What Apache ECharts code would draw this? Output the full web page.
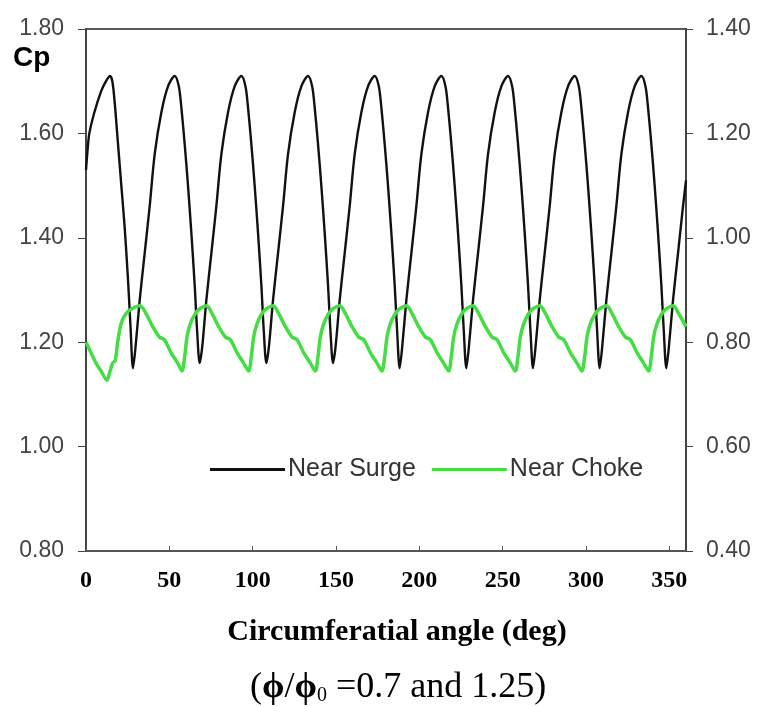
<!DOCTYPE html>
<html>
<head>
<meta charset="utf-8">
<script src="https://cdn.jsdelivr.net/npm/echarts@6/dist/echarts.min.js"></script>
<style>
  html, body { margin: 0; padding: 0; background: #fff; }
  #chart { width: 760px; height: 707px; }
</style>
</head>
<body>
<div id="chart"></div>
<script>
// Cp vs circumferential angle
var xTicks = [0, 50, 100, 150, 200, 250, 300, 350];
var leftTicks = [0.8, 1.0, 1.2, 1.4, 1.6, 1.8];
var rightTicks = [0.4, 0.6, 0.8, 1.0, 1.2, 1.4];

// Near Surge (left axis), [angle, Cp]
var nearSurge = [
  [0, 1.53], [1, 1.57], [2, 1.60], [5, 1.64], [9, 1.68], [12, 1.70], [14.4, 1.71], [15.8, 1.70],
  [17.2, 1.66], [19.2, 1.58], [21.2, 1.50], [23.2, 1.42], [25.2, 1.32], [26.7, 1.23], [28.2, 1.15],
  [29.7, 1.19], [32.2, 1.28], [35.2, 1.37], [38.2, 1.46], [41.2, 1.56], [45.2, 1.64], [49.2, 1.69], [53.2, 1.71],
  [55.7, 1.69], [57.2, 1.65], [59.2, 1.58], [61.2, 1.50], [63.2, 1.41], [65.2, 1.31], [66.7, 1.22], [68.2, 1.16],
  [69.7, 1.19], [72.2, 1.28], [75.2, 1.37], [78.2, 1.46], [81.2, 1.56], [85.2, 1.64], [89.2, 1.69], [93.2, 1.71],
  [95.7, 1.69], [97.2, 1.65], [99.2, 1.58], [101.2, 1.50], [103.2, 1.41], [105.2, 1.31], [106.7, 1.22], [108.2, 1.16],
  [109.7, 1.19], [112.2, 1.28], [115.2, 1.37], [118.2, 1.46], [121.2, 1.56], [125.2, 1.64], [129.2, 1.69], [133.2, 1.71],
  [135.7, 1.69], [137.2, 1.65], [139.2, 1.58], [141.2, 1.50], [143.2, 1.41], [145.2, 1.31], [146.7, 1.22], [148.2, 1.16],
  [149.7, 1.19], [152.2, 1.28], [155.2, 1.37], [158.2, 1.46], [161.2, 1.56], [165.2, 1.64], [169.2, 1.69], [173.2, 1.71],
  [175.7, 1.69], [177.2, 1.65], [179.2, 1.58], [181.2, 1.50], [183.2, 1.41], [185.2, 1.31], [186.7, 1.22], [188.2, 1.15],
  [189.7, 1.19], [192.2, 1.28], [195.2, 1.37], [198.2, 1.46], [201.2, 1.56], [205.2, 1.64], [209.2, 1.69], [213.2, 1.71],
  [215.7, 1.69], [217.2, 1.65], [219.2, 1.58], [221.2, 1.50], [223.2, 1.41], [225.2, 1.31], [226.7, 1.22], [228.2, 1.15],
  [229.7, 1.19], [232.2, 1.28], [235.2, 1.37], [238.2, 1.46], [241.2, 1.56], [245.2, 1.64], [249.2, 1.69], [253.2, 1.71],
  [255.7, 1.69], [257.2, 1.65], [259.2, 1.58], [261.2, 1.50], [263.2, 1.41], [265.2, 1.31], [266.7, 1.22], [268.2, 1.15],
  [269.7, 1.19], [272.2, 1.28], [275.2, 1.37], [278.2, 1.46], [281.2, 1.56], [285.2, 1.64], [289.2, 1.69], [293.2, 1.71],
  [295.7, 1.69], [297.2, 1.65], [299.2, 1.58], [301.2, 1.50], [303.2, 1.41], [305.2, 1.31], [306.7, 1.22], [308.2, 1.15],
  [309.7, 1.19], [312.2, 1.28], [315.2, 1.37], [318.2, 1.46], [321.2, 1.56], [325.2, 1.64], [329.2, 1.69], [333.2, 1.71],
  [335.7, 1.69], [337.2, 1.65], [339.2, 1.58], [341.2, 1.50], [343.2, 1.41], [345.2, 1.31], [346.7, 1.22], [348.2, 1.15],
  [349.7, 1.19], [352.2, 1.28], [355.2, 1.37], [358.2, 1.46], [360, 1.51]
];

// Near Choke (right axis), [angle, Cp]
var nearChoke = [
  [0, 0.80], [3, 0.78], [6, 0.76], [9, 0.745], [12.6, 0.727], [14, 0.74], [16, 0.76], [17.5, 0.765],
  [19, 0.80], [21, 0.835], [24, 0.855], [28, 0.865], [32.4, 0.87],
  [36, 0.855], [40, 0.83], [44, 0.81], [47, 0.805], [51, 0.78], [55, 0.76], [57.6, 0.745],
  [59.1, 0.77], [60.6, 0.81], [62.6, 0.835], [65.6, 0.855], [68.6, 0.865], [72.4, 0.87],
  [75.6, 0.855], [79.6, 0.83], [83.6, 0.81], [86.6, 0.805], [90.6, 0.78], [94.6, 0.76], [97.6, 0.745],
  [99.1, 0.77], [100.6, 0.81], [102.6, 0.835], [105.6, 0.855], [108.6, 0.865], [112.4, 0.87],
  [115.6, 0.855], [119.6, 0.83], [123.6, 0.81], [126.6, 0.805], [130.6, 0.78], [134.6, 0.76], [137.6, 0.745],
  [139.1, 0.77], [140.6, 0.81], [142.6, 0.835], [145.6, 0.855], [148.6, 0.865], [152.4, 0.87],
  [155.6, 0.855], [159.6, 0.83], [163.6, 0.81], [166.6, 0.805], [170.6, 0.78], [174.6, 0.76], [177.6, 0.745],
  [179.1, 0.77], [180.6, 0.81], [182.6, 0.835], [185.6, 0.855], [188.6, 0.865], [192.4, 0.87],
  [195.6, 0.855], [199.6, 0.83], [203.6, 0.81], [206.6, 0.805], [210.6, 0.78], [214.6, 0.76], [217.6, 0.745],
  [219.1, 0.77], [220.6, 0.81], [222.6, 0.835], [225.6, 0.855], [228.6, 0.865], [232.4, 0.87],
  [235.6, 0.855], [239.6, 0.83], [243.6, 0.81], [246.6, 0.805], [250.6, 0.78], [254.6, 0.76], [257.6, 0.745],
  [259.1, 0.77], [260.6, 0.81], [262.6, 0.835], [265.6, 0.855], [268.6, 0.865], [272.4, 0.87],
  [275.6, 0.855], [279.6, 0.83], [283.6, 0.81], [286.6, 0.805], [290.6, 0.78], [294.6, 0.76], [297.6, 0.745],
  [299.1, 0.77], [300.6, 0.81], [302.6, 0.835], [305.6, 0.855], [308.6, 0.865], [312.4, 0.87],
  [315.6, 0.855], [319.6, 0.83], [323.6, 0.81], [326.6, 0.805], [330.6, 0.78], [334.6, 0.76], [337.6, 0.745],
  [339.1, 0.77], [340.6, 0.81], [342.6, 0.835], [345.6, 0.855], [348.6, 0.865], [352.4, 0.87],
  [355.6, 0.855], [360, 0.83]
];

var myChart = echarts.init(document.getElementById('chart'));

var option = {
  backgroundColor: '#fff',
  animation: false,
  grid: {
    left: 86, right: 74, top: 29, bottom: 156,
    show: true, borderColor: '#222', borderWidth: 1.5
  },
  legend: {
    left: 205, top: 452,
    itemWidth: 75, itemHeight: 3, itemGap: 16,
    icon: 'rect',
    textStyle: { fontFamily: 'Liberation Sans', fontSize: 25, color: '#333', padding: [0, 0, 0, -2] },
    data: ['Near Surge', 'Near Choke']
  },
  xAxis: {
    type: 'value',
    min: xTicks[0], max: 360, interval: xTicks[1] - xTicks[0],
    axisLine: { lineStyle: { color: '#555', width: 2 } },
    axisTick: { inside: true, length: 5, lineStyle: { color: '#555' } },
    splitLine: { show: false },
    axisLabel: {
      showMaxLabel: false, margin: 18,
      fontFamily: 'Liberation Serif', fontWeight: 'bold', fontSize: 24, color: '#000'
    },
    name: 'Circumferatial angle (deg)',
    nameLocation: 'middle', nameGap: 66,
    nameTextStyle: {
      fontFamily: 'Liberation Serif', fontWeight: 'bold', fontSize: 30, color: '#000',
      padding: [0, 0, 0, 22]
    }
  },
  yAxis: [{
    type: 'value',
    min: leftTicks[0], max: leftTicks[leftTicks.length - 1], interval: 0.2,
    axisLine: { show: true, lineStyle: { color: '#444', width: 2 } },
    axisTick: { show: true, length: 8, lineStyle: { color: '#444' } },
    splitLine: { show: false },
    axisLabel: {
      margin: 22, fontFamily: 'Liberation Sans', fontSize: 23, color: '#444',
      formatter: function (v) { return v.toFixed(2); }
    }
  }, {
    type: 'value', position: 'right',
    min: rightTicks[0], max: rightTicks[rightTicks.length - 1], interval: 0.2,
    axisLine: { show: true, lineStyle: { color: '#444', width: 2 } },
    axisTick: { show: true, length: 7, lineStyle: { color: '#444' } },
    splitLine: { show: false },
    axisLabel: {
      margin: 20, fontFamily: 'Liberation Sans', fontSize: 23, color: '#444',
      formatter: function (v) { return v.toFixed(2); }
    }
  }],
  graphic: [{
    type: 'text', left: 13, top: 44,
    style: { text: 'Cp', font: 'bold 28px "Liberation Sans"', fill: '#000' }
  }, {
    type: 'text', left: 250, top: 670,
    style: {
      text: '({a|ϕ}/{a|ϕ}{s|0} =0.7 and 1.25)',
      font: '36px "Liberation Serif"', fill: '#000',
      rich: {
        a: { font: 'bold 36px "Liberation Serif"', fill: '#000' },
        s: { font: '20px "Liberation Serif"', fill: '#000', padding: [16, 0, 0, 0] }
      }
    }
  }],
  series: [{
    name: 'Near Surge',
    type: 'line',
    yAxisIndex: 0,
    data: nearSurge,
    showSymbol: false,
    smooth: 0.3,
    lineStyle: { color: '#111', width: 2.4 },
    itemStyle: { color: '#111' }
  }, {
    name: 'Near Choke',
    type: 'line',
    yAxisIndex: 1,
    data: nearChoke,
    showSymbol: false,
    smooth: 0.3,
    lineStyle: { color: '#44dd44', width: 3.5 },
    itemStyle: { color: '#44dd44' }
  }]
};

myChart.setOption(option);
</script>
</body>
</html>
